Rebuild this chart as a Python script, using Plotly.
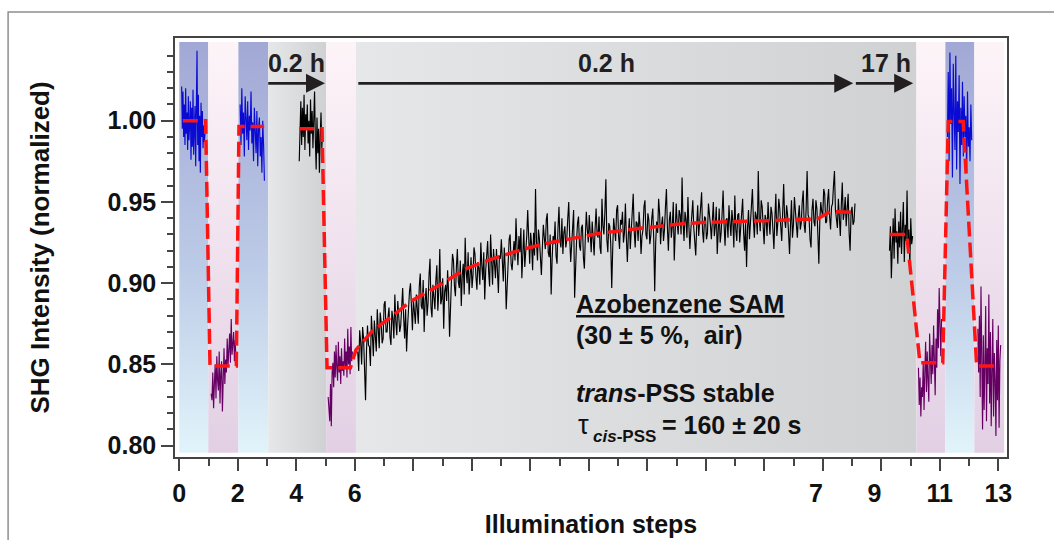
import numpy as np
import plotly.graph_objects as go

# ---------------- axis ticks (one slot per illumination step; 6 -> 22 is the long dark period)
x_major = [0, 2, 4, 6, 8, 10, 12, 14, 16, 18, 20, 22, 24, 26, 28]
x_major_text = ["0", "2", "4", "6", "", "", "", "", "", "", "", "7\u2007", "9\u2007", "11", "13"]
x_minor = [1, 3, 5, 7, 9, 11, 13, 15, 17, 19, 21, 23, 25, 27]
y_major = [0.80, 0.85, 0.90, 0.95, 1.00]
y_minor = [0.81, 0.82, 0.83, 0.84, 0.86, 0.87, 0.88, 0.89, 0.91, 0.92, 0.93, 0.94,
           0.96, 0.97, 0.98, 0.99, 1.01, 1.02, 1.03, 1.04]

# ---------------- illumination intervals: vis = blue light, uv = UV light, dark = no light
band_start = [0.00, 0.99, 2.02, 3.04, 5.02, 6.04, 25.20, 26.19, 27.18]
band_end = [0.99, 2.02, 3.04, 5.02, 6.04, 25.20, 26.19, 27.18, 28.20]
band_kind = ["vis", "uv", "vis", "dark", "uv", "dark", "uv", "vis", "uv"]

# ---------------- SHG traces (normalized intensity)
shg_step0 = [1.021, 0.995, 1.018, 0.990, 1.010, 0.985, 1.020, 0.992, 1.005, 0.982, 1.015, 0.988,
             0.998, 1.012, 0.976, 1.008, 0.984, 1.019, 0.979, 0.996, 1.009, 0.972, 0.999, 1.043,
             0.985, 1.016, 0.975, 1.003, 0.968, 1.011, 0.990, 1.006, 0.983, 0.997, 0.987, 0.992]
shg_step1 = [0.832, 0.828, 0.845, 0.823, 0.838, 0.850, 0.829, 0.855, 0.840, 0.834, 0.858, 0.826,
             0.844, 0.852, 0.821, 0.847, 0.860, 0.838, 0.853, 0.845, 0.866, 0.849, 0.858, 0.869,
             0.851, 0.878, 0.856, 0.862, 0.870, 0.852, 0.865, 0.849]
shg_step2 = [1.010, 0.985, 1.020, 0.992, 1.005, 0.978, 1.015, 0.998, 0.988, 1.012, 0.982, 1.003,
             0.994, 1.018, 0.986, 0.999, 0.975, 1.008, 0.990, 0.980, 1.006, 0.972, 0.995, 1.002,
             0.978, 0.990, 0.968, 1.000, 0.985, 0.963]
shg_step4 = [0.975, 0.998, 1.012, 0.985, 1.008, 0.990, 1.016, 0.982, 1.004, 0.995, 1.010, 0.986,
             1.000, 0.978, 1.013, 0.992, 1.006, 0.983, 0.998, 1.018, 0.988, 0.970, 1.002, 0.980,
             0.995, 0.968, 0.990, 1.005, 0.983, 0.994]
shg_step5 = [0.830, 0.822, 0.815, 0.838, 0.812, 0.845, 0.851, 0.836, 0.858, 0.842, 0.862, 0.848,
             0.840, 0.864, 0.845, 0.855, 0.838, 0.860, 0.846, 0.852, 0.843, 0.866, 0.849, 0.858,
             0.842, 0.872, 0.850, 0.861, 0.844, 0.873, 0.852, 0.858]
shg_dark = [
    0.858, 0.846, 0.871, 0.864, 0.850, 0.873, 0.866, 0.852, 0.828, 0.859, 0.874, 0.862, 0.861, 0.849, 0.880,
    0.868, 0.855, 0.877, 0.869, 0.858, 0.884, 0.871, 0.860, 0.882, 0.876, 0.863, 0.866, 0.887, 0.889, 0.870,
    0.870, 0.879, 0.885, 0.867, 0.862, 0.883, 0.878, 0.866, 0.893, 0.876, 0.868, 0.889, 0.881, 0.870, 0.874,
    0.891, 0.897, 0.879, 0.866, 0.884, 0.858, 0.873, 0.887, 0.895, 0.900, 0.877, 0.871, 0.890, 0.884, 0.875,
    0.893, 0.881, 0.875, 0.898, 0.906, 0.886, 0.884, 0.902, 0.870, 0.889, 0.897, 0.880, 0.888, 0.905, 0.915,
    0.885, 0.879, 0.899, 0.893, 0.884, 0.902, 0.911, 0.883, 0.896, 0.921, 0.887, 0.890, 0.903, 0.872, 0.895,
    0.899, 0.889, 0.908, 0.894, 0.867, 0.896, 0.903, 0.918, 0.914, 0.898, 0.892, 0.910, 0.921, 0.901, 0.897,
    0.914, 0.886, 0.905, 0.912, 0.893, 0.928, 0.907, 0.900, 0.919, 0.893, 0.904, 0.916, 0.897, 0.905, 0.922,
    0.918, 0.904, 0.896, 0.913, 0.909, 0.899, 0.925, 0.911, 0.902, 0.919, 0.890, 0.908, 0.917, 0.926, 0.907,
    0.898, 0.930, 0.914, 0.899, 0.921, 0.912, 0.903, 0.921, 0.909, 0.894, 0.917, 0.915, 0.927, 0.908, 0.901,
    0.922, 0.909, 0.884, 0.903, 0.915, 0.927, 0.930, 0.912, 0.908, 0.921, 0.926, 0.914, 0.940, 0.923, 0.911,
    0.929, 0.919, 0.934, 0.903, 0.918, 0.933, 0.910, 0.917, 0.929, 0.945, 0.920, 0.912, 0.931, 0.924, 0.908,
    0.931, 0.917, 0.958, 0.925, 0.914, 0.933, 0.927, 0.916, 0.905, 0.922, 0.936, 0.928, 0.921, 0.939, 0.943,
    0.919, 0.916, 0.930, 0.893, 0.915, 0.929, 0.924, 0.938, 0.917, 0.912, 0.934, 0.947, 0.926, 0.922, 0.940,
    0.918, 0.931, 0.935, 0.922, 0.927, 0.940, 0.950, 0.928, 0.913, 0.924, 0.932, 0.945, 0.891, 0.917, 0.926,
    0.937, 0.941, 0.923, 0.920, 0.934, 0.936, 0.916, 0.909, 0.929, 0.944, 0.933, 0.925, 0.942, 0.931, 0.919,
    0.938, 0.926, 0.917, 0.934, 0.946, 0.930, 0.928, 0.941, 0.922, 0.918, 0.952, 0.935, 0.930, 0.944, 0.964,
    0.927, 0.919, 0.937, 0.935, 0.924, 0.897, 0.921, 0.940, 0.933, 0.926, 0.945, 0.948, 0.929, 0.921, 0.939,
    0.936, 0.944, 0.925, 0.931, 0.949, 0.928, 0.913, 0.930, 0.940, 0.921, 0.931, 0.946, 0.955, 0.932, 0.922,
    0.938, 0.937, 0.926, 0.944, 0.935, 0.918, 0.929, 0.933, 0.947, 0.951, 0.930, 0.927, 0.943, 0.939, 0.924,
    0.929, 0.940, 0.946, 0.927, 0.895, 0.925, 0.938, 0.931, 0.952, 0.943, 0.924, 0.936, 0.941, 0.926, 0.933,
    0.947, 0.958, 0.934, 0.920, 0.939, 0.944, 0.928, 0.935, 0.950, 0.914, 0.932, 0.949, 0.937, 0.930, 0.945,
    0.942, 0.930, 0.965, 0.938, 0.926, 0.944, 0.939, 0.928, 0.953, 0.935, 0.921, 0.933, 0.945, 0.951, 0.934,
    0.924, 0.917, 0.936, 0.948, 0.929, 0.937, 0.946, 0.956, 0.932, 0.925, 0.941, 0.940, 0.927, 0.931, 0.949,
    0.944, 0.936, 0.927, 0.941, 0.950, 0.929, 0.935, 0.947, 0.918, 0.932, 0.946, 0.925, 0.931, 0.943, 0.957,
    0.936, 0.923, 0.939, 0.940, 0.928, 0.948, 0.937, 0.929, 0.945, 0.938, 0.922, 0.954, 0.933, 0.926, 0.942,
    0.943, 0.925, 0.933, 0.946, 0.952, 0.931, 0.920, 0.937, 0.910, 0.934, 0.945, 0.927, 0.936, 0.949, 0.958,
    0.939, 0.928, 0.944, 0.941, 0.930, 0.969, 0.940, 0.932, 0.951, 0.947, 0.935, 0.924, 0.942, 0.939, 0.929,
    0.950, 0.938, 0.930, 0.947, 0.943, 0.933, 0.921, 0.940, 0.955, 0.929, 0.937, 0.952, 0.946, 0.935, 0.926,
    0.944, 0.961, 0.939, 0.934, 0.948, 0.942, 0.931, 0.918, 0.936, 0.951, 0.928, 0.936, 0.953, 0.945, 0.932,
    0.928, 0.941, 0.948, 0.933, 0.937, 0.950, 0.957, 0.936, 0.931, 0.946, 0.969, 0.942, 0.940, 0.927, 0.922,
    0.945, 0.952, 0.938, 0.935, 0.951, 0.946, 0.930, 0.912, 0.939, 0.950, 0.944, 0.941, 0.958, 0.955, 0.937,
    0.938, 0.951, 0.958, 0.941, 0.933, 0.947, 0.949, 0.960, 0.969, 0.945, 0.940, 0.934, 0.952, 0.943, 0.929,
    0.948, 0.962, 0.939, 0.944, 0.953, 0.935, 0.946, 0.955, 0.931, 0.920, 0.944, 0.947, 0.936, 0.938, 0.949,
]
shg_after17h = [0.920, 0.935, 0.903, 0.928, 0.940, 0.915, 0.946, 0.925, 0.932, 0.912, 0.938, 0.922,
                0.944, 0.918, 0.930, 0.950, 0.913, 0.936, 0.926, 0.957, 0.921, 0.933, 0.911, 0.940,
                0.924, 0.929]
shg_step11 = [0.848, 0.825, 0.842, 0.818, 0.836, 0.830, 0.852, 0.822, 0.845, 0.864, 0.833, 0.858,
              0.840, 0.827, 0.869, 0.850, 0.838, 0.862, 0.844, 0.874, 0.856, 0.831, 0.866, 0.848,
              0.884, 0.860, 0.897, 0.871, 0.855, 0.878]
shg_step12 = [0.990, 1.030, 0.975, 1.042, 0.998, 1.020, 0.965, 1.035, 1.005, 0.982, 1.040, 0.970,
              1.012, 0.993, 1.028, 0.961, 1.008, 0.985, 1.024, 0.978, 1.015, 0.990, 1.003, 0.968,
              1.018, 0.984, 0.996, 0.975, 1.010, 0.988]
shg_step13 = [0.872, 0.845, 0.880, 0.830, 0.898, 0.855, 0.810, 0.868, 0.822, 0.850, 0.886, 0.815,
              0.860, 0.838, 0.893, 0.826, 0.870, 0.812, 0.848, 0.878, 0.818, 0.857, 0.840, 0.806,
              0.865, 0.828, 0.874, 0.811, 0.852, 0.862]

# (first sample, last sample, values, light state)
segments = [
    (0.08, 0.88, shg_step0, "vis"),
    (1.09, 1.94, shg_step1, "uv"),
    (2.08, 2.91, shg_step2, "vis"),
    (4.10, 4.90, shg_step4, "dark"),
    (5.09, 5.92, shg_step5, "uv"),
    (6.10, 23.10, shg_dark, "dark"),
    (24.28, 25.07, shg_after17h, "dark"),
    (25.27, 26.06, shg_step11, "uv"),
    (26.26, 27.09, shg_step12, "vis"),
    (27.30, 28.08, shg_step13, "uv"),
]

# ---------------- fitted levels / cis->trans thermal recovery (None = no fit)
fit_x = [0.12, 0.90, 1.05, 1.95, 2.04, 2.90, None,
         4.10, 4.88, 5.05, 5.85, 6.04, 6.63, 7.30, 7.89, 8.80, 9.48, 9.83, 10.70, 11.65, 12.56,
         13.47, 14.38, 15.30, 16.21, 17.12, 18.03, 19.28, 20.19, 21.11, 21.79, 22.25, 23.04, None,
         24.30, 24.87, 25.32, 26.10, 26.29, 26.80, 27.26, 28.06]
fit_y = [1.000, 1.000, 0.849, 0.849, 0.9965, 0.9965, None,
         0.995, 0.995, 0.848, 0.848, 0.859, 0.8712, 0.880, 0.8886, 0.8979, 0.905, 0.9092, 0.915,
         0.9204, 0.9246, 0.9277, 0.9307, 0.9328, 0.9348, 0.9365, 0.9375, 0.9379, 0.9385, 0.9393,
         0.9393, 0.944, 0.9437, None,
         0.930, 0.930, 0.851, 0.851, 0.9995, 0.9995, 0.849, 0.849]

# ---------------- elapsed-time arrows
arrow_tail = [3.04, 6.12, 23.13]
arrow_tip = [4.98, 23.04, 25.09]
arrow_text = ["0.2 h", "0.2 h", "17 h"]
arrow_text_x = [4.01, 14.62, 24.16]

# ---------------- styling
FONT = "Liberation Sans, Arial, Helvetica, sans-serif"
INK = "#231f20"
TXT = "#111111"
trace_color = {"vis": "#0a0ad2", "uv": "#650062", "dark": "#000000"}
band_fill = {
    "vis": dict(type="vertical", colorscale=[[0, "#e1f4fa"], [0.45, "#bccbe7"], [1, "#a2a8d5"]]),
    "uv": dict(type="vertical", colorscale=[[0, "#e2cfe4"], [1, "#fdf4f8"]]),
    "dark": dict(type="horizontal", colorscale=[[0, "#e6e7e9"], [1, "#d0d1d3"]]),
}
Y_LO, Y_HI = 0.7956, 1.0484
X_RANGE = [-0.147, 28.297]
Y_RANGE = [0.79305, 1.0509]
ARROW_Y = 1.023
HEAD_LEN = 0.3  # arrow shaft stops short of the head (x units)

fig = go.Figure()

for x0, x1, kind in zip(band_start, band_end, band_kind):
    fig.add_trace(go.Scatter(
        x=[x0, x1, x1, x0, x0], y=[Y_LO, Y_LO, Y_HI, Y_HI, Y_LO],
        mode="lines", line=dict(width=0), fill="toself",
        fillgradient=band_fill[kind], hoverinfo="skip", showlegend=False,
    ))

for x0, x1, vals, kind in segments:
    fig.add_trace(go.Scatter(
        x=np.linspace(x0, x1, len(vals)), y=vals, mode="lines",
        line=dict(color=trace_color[kind], width=1.15), showlegend=False,
    ))

fig.add_trace(go.Scatter(
    x=fit_x, y=fit_y, mode="lines", connectgaps=False,
    line=dict(color="#ff1414", width=3.5, dash="15px,6px"), showlegend=False,
))

# arrow shafts and heads
shaft_x, shaft_y = [], []
for tail, tip in zip(arrow_tail, arrow_tip):
    shaft_x += [tail, tip - HEAD_LEN, None]
    shaft_y += [ARROW_Y, ARROW_Y, None]
fig.add_trace(go.Scatter(x=shaft_x, y=shaft_y, mode="lines",
                         line=dict(color=INK, width=2.8), showlegend=False, hoverinfo="skip"))
fig.add_trace(go.Scatter(x=arrow_tip, y=[ARROW_Y] * len(arrow_tip), mode="markers",
                         marker=dict(symbol="arrow-right", size=19, color=INK,
                                     line=dict(width=0)),
                         showlegend=False, hoverinfo="skip"))

annotations = []
for label, lx in zip(arrow_text, arrow_text_x):
    annotations.append(dict(
        x=lx, y=1.0355, xref="x", yref="y", text=label, showarrow=False,
        font=dict(family=FONT, size=25, color=INK, weight="bold"),
        xanchor="center", yanchor="middle",
    ))

# sample description block: (text, x, y, size, weight)
info_text = [
    ("<u>Azobenzene SAM</u>", 13.50, 0.8872, 25, "bold"),
    ("(30 ± 5 %,  air)", 13.50, 0.8681, 25, "bold"),
    ("<i>trans</i>-PSS stable", 13.50, 0.8324, 25, "bold"),
    ("τ", 13.55, 0.8127, 27, "normal"),
    ("<i>cis</i>-PSS", 14.08, 0.8058, 17, "bold"),
    ("= 160 ± 20 s", 16.42, 0.8127, 25, "bold"),
]
for txt, xx, yy, size, weight in info_text:
    annotations.append(dict(
        x=xx, y=yy, xref="x", yref="y", text=txt, showarrow=False,
        font=dict(family=FONT, size=size, color=TXT, weight=weight),
        xanchor="left", yanchor="middle",
    ))

title_font = dict(family=FONT, size=25, color=TXT, weight="bold")
tick_font = dict(family=FONT, size=25, color=TXT, weight="bold")
fig.update_layout(
    width=1054, height=540,
    margin=dict(l=175, r=47, t=38, b=83),
    paper_bgcolor="white", plot_bgcolor="white",
    annotations=annotations,
    shapes=[dict(type="rect", xref="paper", yref="paper", x0=-0.2006, x1=1.2, y0=-0.4, y1=1.062,
                 line=dict(color="#8f8f8f", width=1.5), layer="below")],
    xaxis=dict(
        range=X_RANGE, showgrid=False, zeroline=False, automargin=False,
        title=dict(text="Illumination steps", font=title_font, standoff=10),
        showline=True, mirror=True, linecolor="#444444", linewidth=1.5,
        tickmode="array", tickvals=x_major, ticktext=x_major_text,
        ticks="outside", ticklen=12, tickwidth=1.5, tickcolor="#444444",
        tickfont=tick_font, ticklabelstandoff=1,
        minor=dict(tickmode="array", tickvals=x_minor, ticks="outside", ticklen=7,
                   tickwidth=1.5, tickcolor="#444444", showgrid=False),
    ),
    yaxis=dict(
        range=Y_RANGE, showgrid=False, zeroline=False, automargin=False,
        title=dict(text="SHG Intensity (normalized)", font=dict(title_font, size=26), standoff=50),
        showline=True, mirror=True, linecolor="#444444", linewidth=1.5,
        tickmode="array", tickvals=y_major, ticktext=[f"{v:.2f}" for v in y_major],
        ticks="outside", ticklen=12, tickwidth=1.5, tickcolor="#444444",
        tickfont=tick_font, ticklabelstandoff=0,
        minor=dict(tickmode="array", tickvals=y_minor, ticks="outside", ticklen=6,
                   tickwidth=1.5, tickcolor="#444444", showgrid=False),
    ),
)

fig.write_html("out.html")
